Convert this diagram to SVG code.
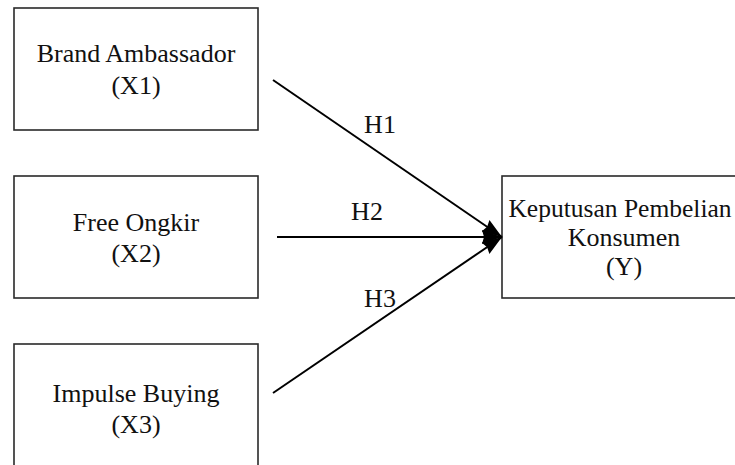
<svg xmlns="http://www.w3.org/2000/svg" width="735" height="465" viewBox="0 0 735 465">
<defs>
<style>
.box{fill:#fff;stroke:#2a2a2a;stroke-width:1.6}
.t{font-family:"Liberation Serif","Times New Roman",serif;font-size:26px;fill:#111;text-anchor:middle}
.ln{stroke:#000;stroke-width:2;fill:none;marker-end:url(#ah)}
</style>
<marker id="ah" markerUnits="userSpaceOnUse" markerWidth="22" markerHeight="18" refX="20" refY="8" orient="auto">
<path d="M0,1 L20,8 L0,15 L2,8 Z" fill="#000"/>
</marker>
</defs>
<rect width="735" height="465" fill="#fff"/>
<g id="x1">
<rect class="box" x="14" y="8" width="244" height="122"/>
<text class="t" x="136" y="62">Brand Ambassador</text>
<text class="t" x="136" y="94">(X1)</text>
</g>
<g id="x2">
<rect class="box" x="14" y="176" width="244" height="122"/>
<text class="t" x="136" y="231">Free Ongkir</text>
<text class="t" x="136" y="262">(X2)</text>
</g>
<g id="x3">
<rect class="box" x="14" y="344" width="244" height="130"/>
<text class="t" x="136" y="402">Impulse Buying</text>
<text class="t" x="136" y="433">(X3)</text>
</g>
<g id="y">
<rect class="box" x="502" y="176" width="250" height="122"/>
<text class="t" x="620" y="217" style="font-size:25.5px">Keputusan Pembelian</text>
<text class="t" x="624" y="246">Konsumen</text>
<text class="t" x="624" y="275">(Y)</text>
</g>
<g id="connectors">
<line class="ln" x1="273" y1="80" x2="502" y2="237"/>
<line class="ln" x1="277" y1="237" x2="502" y2="237"/>
<line class="ln" x1="273" y1="393" x2="502" y2="237"/>
<text class="t" x="380" y="133">H1</text>
<text class="t" x="367" y="220">H2</text>
<text class="t" x="380" y="307">H3</text>
</g>
</svg>
